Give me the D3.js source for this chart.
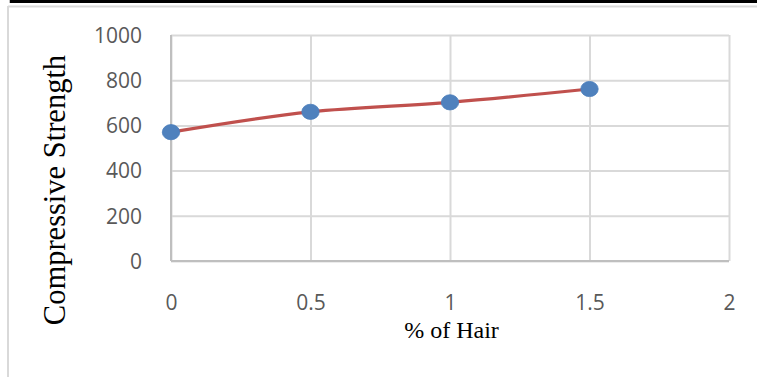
<!DOCTYPE html>
<html>
<head>
<meta charset="utf-8">
<script src="https://cdn.jsdelivr.net/npm/d3@7/dist/d3.min.js"></script>
<style>
  html, body { margin: 0; padding: 0; background: #fff; }
  svg { display: block; }
</style>
</head>
<body>
<svg id="chart" width="757" height="377"></svg>
<script>
const hairPercent = [0, 0.5, 1, 1.5];
const strength = [570, 660, 702, 761];
const xTicks = [0, 0.5, 1, 1.5, 2];
const yTicks = [0, 200, 400, 600, 800, 1000];
const xTitle = "% of Hair";
const yTitle = "Compressive Strength";

const svg = d3.select("#chart");
const W = 757, H = 377;
const plot = { left: 171, right: 729, top: 35, bottom: 261 };

// document frame decorations
svg.append("line").attr("x1", 8).attr("x2", W).attr("y1", 6.5).attr("y2", 6.5)
  .attr("stroke", "#d9d9d9").attr("stroke-width", 2);
svg.append("line").attr("x1", 8).attr("x2", 8).attr("y1", 6).attr("y2", H)
  .attr("stroke", "#d9d9d9").attr("stroke-width", 2);
svg.append("line").attr("x1", 10).attr("x2", W).attr("y1", 1.5).attr("y2", 1.5)
  .attr("stroke", "#000").attr("stroke-width", 3);
[10.5, 105, 248].forEach(x => {
  svg.append("line").attr("x1", x).attr("x2", x).attr("y1", 0).attr("y2", 3)
    .attr("stroke", "#000").attr("stroke-width", 1.5);
});

const x = d3.scaleLinear().domain([0, 2]).range([plot.left, plot.right]);
const y = d3.scaleLinear().domain([0, 1000]).range([plot.bottom, plot.top]);

// gridlines
const gx = svg.append("g").attr("transform", `translate(0,${plot.bottom})`)
  .call(d3.axisBottom(x).tickValues(xTicks).tickSize(-(plot.bottom - plot.top)).tickFormat(""));
gx.select(".domain").remove();
gx.selectAll("line").attr("stroke", "#d9d9d9").attr("stroke-width", 2);

const gy = svg.append("g").attr("transform", `translate(${plot.left},0)`)
  .call(d3.axisLeft(y).tickValues(yTicks).tickSize(-(plot.right - plot.left)).tickFormat(""));
gy.select(".domain").remove();
gy.selectAll("line").attr("stroke", "#d9d9d9").attr("stroke-width", 2);

// axis lines
svg.append("line").attr("x1", plot.left).attr("x2", plot.right)
  .attr("y1", plot.bottom).attr("y2", plot.bottom).attr("stroke", "#bfbfbf").attr("stroke-width", 2);
svg.append("line").attr("x1", plot.left).attr("x2", plot.left)
  .attr("y1", plot.top).attr("y2", plot.bottom).attr("stroke", "#bfbfbf").attr("stroke-width", 2);

// tick labels
const tickFont = "'Open Sans', 'Noto Sans', sans-serif";
const yl = svg.append("g").attr("transform", `translate(142,0)`)
  .call(d3.axisLeft(y).tickValues(yTicks).tickSize(0).tickPadding(0).tickFormat(d3.format("d")));
yl.select(".domain").remove();
yl.selectAll("text").attr("font-family", tickFont).attr("font-size", 21)
  .attr("fill", "#595959").attr("dy", "0.35em");

const xl = svg.append("g").attr("transform", `translate(0,295)`)
  .call(d3.axisBottom(x).tickValues(xTicks).tickSize(0).tickPadding(0)
    .tickFormat(d => String(d)));
xl.select(".domain").remove();
xl.selectAll("text").attr("font-family", tickFont).attr("font-size", 21)
  .attr("fill", "#595959").attr("dy", "0.71em");

// titles
svg.append("text").attr("x", 451.5).attr("y", 338).attr("text-anchor", "middle")
  .attr("font-family", "'Liberation Serif', 'Times New Roman', serif").attr("font-size", 24)
  .attr("fill", "#000").text(xTitle);
svg.append("text").attr("transform", "translate(65,190) rotate(-90)").attr("text-anchor", "middle")
  .attr("font-family", "'Liberation Serif', 'Times New Roman', serif").attr("font-size", 30.5)
  .attr("fill", "#000").text(yTitle);

// series
const pts = hairPercent.map((h, i) => [h, strength[i]]);
const line = d3.line().x(d => x(d[0])).y(d => y(d[1])).curve(d3.curveCatmullRom.alpha(0));
svg.append("path").datum(pts).attr("d", line).attr("fill", "none")
  .attr("stroke", "#C0504D").attr("stroke-width", 3.2).attr("stroke-linecap", "round");

svg.selectAll("ellipse.pt").data(pts).enter().append("ellipse").attr("class", "pt")
  .attr("cx", d => x(d[0])).attr("cy", d => y(d[1]))
  .attr("rx", 8.7).attr("ry", 7.6)
  .attr("fill", "#4F81BD").attr("stroke", "#4A7EBB").attr("stroke-width", 0.8);
</script>
</body>
</html>
